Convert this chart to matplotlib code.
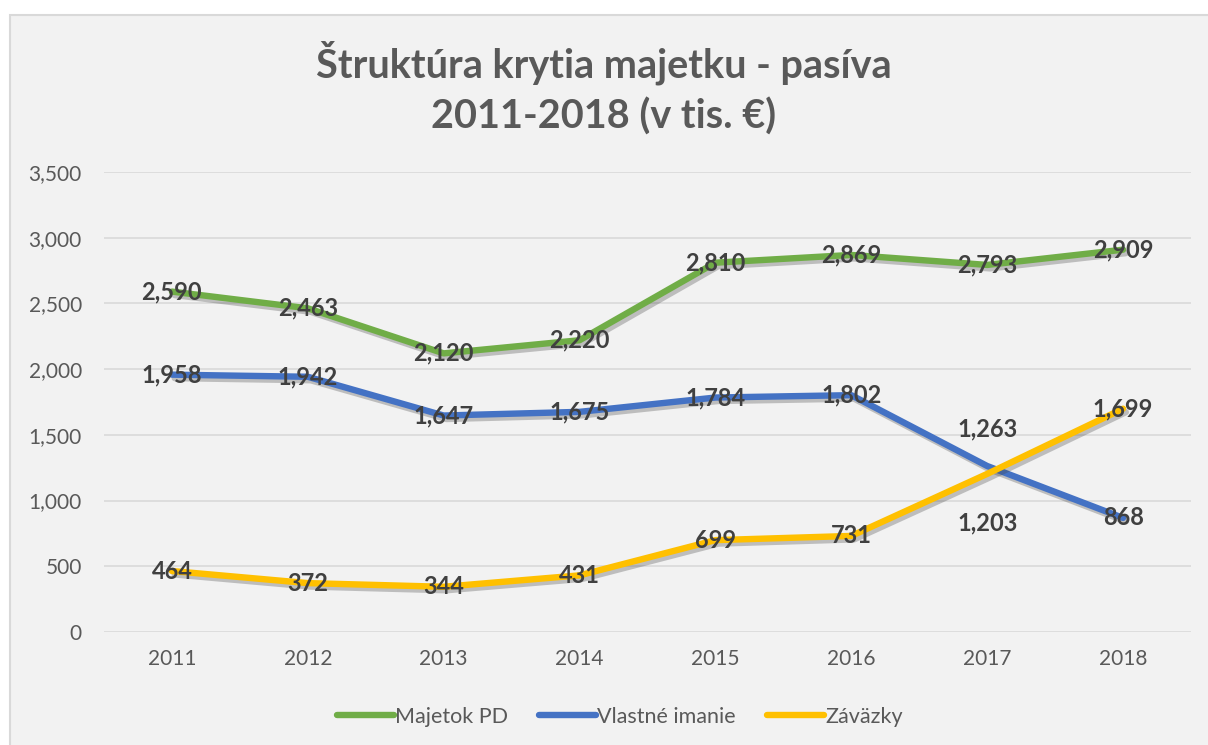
import matplotlib
matplotlib.use("Agg")
import matplotlib.pyplot as plt
import matplotlib.patheffects as pe
from matplotlib.patches import Rectangle

plt.rcParams['font.family'] = ['Lato', 'DejaVu Sans']

years = ['2011', '2012', '2013', '2014', '2015', '2016', '2017', '2018']
majetok = [2590, 2463, 2120, 2220, 2810, 2869, 2793, 2909]
imanie = [1958, 1942, 1647, 1675, 1784, 1802, 1263, 868]
zavazky = [464, 372, 344, 431, 699, 731, 1203, 1699]

names = ['Majetok PD', 'Vlastné imanie', 'Záväzky']
colors = ['#70AD47', '#4472C4', '#FFC000']
# label shift in points (only 2017 labels were moved in the original)
shifts = [{}, {6: 27}, {6: -35}]

W, H = 1208, 745
fig = plt.figure(figsize=(W / 100, H / 100), dpi=100, facecolor='white')
fig.patches.append(Rectangle((10 / W, -0.1), 1.2, 1.1 - 15 / H, transform=fig.transFigure,
                             facecolor='#F2F2F2', edgecolor='#D9D9D9', linewidth=1.5, zorder=-5))

ax = fig.add_axes([104 / W, 1 - 632 / H, (1191 - 104) / W, (632 - 172) / H])
ax.set_facecolor('none')
x = range(len(years))

shadow = [pe.SimpleLineShadow(offset=(2, -2.5), alpha=0.3, shadow_color='#444444'), pe.Normal()]
for vals, name, c, sh in zip([majetok, imanie, zavazky], names, colors, shifts):
    ax.plot(x, vals, color=c, lw=4.6, solid_capstyle='round', label=name,
            path_effects=shadow, zorder=3)
    for i, v in enumerate(vals):
        ax.annotate(f'{v:,}', (i, v), xytext=(0, sh.get(i, 0)), textcoords='offset points',
                    ha='center', va='center', fontsize=17, fontweight='bold',
                    color='#404040', zorder=5)

ax.set_xlim(-0.5, len(years) - 0.5)
ax.set_ylim(0, 3500)
ax.set_yticks(range(0, 3501, 500))
ax.set_yticklabels([f'{t:,}' for t in range(0, 3501, 500)])
ax.set_xticks(list(x))
ax.set_xticklabels(years)
ax.grid(axis='y', color='#D9D9D9', lw=1.2, zorder=0)
for s in ax.spines.values():
    s.set_visible(False)
ax.tick_params(length=0, labelsize=15, colors='#595959', pad=12)
ax.tick_params(axis='y', pad=16)

fig.text(0.5, 1 - 63 / H, 'Štruktúra krytia majetku - pasíva', ha='center', va='center',
         fontsize=28.5, fontweight='bold', color='#595959')
fig.text(0.5, 1 - 117 / H, '2011-2018 (v tis. €)', ha='center', va='center',
         fontsize=28.5, fontweight='bold', color='#595959')

leg = fig.legend(loc='center', bbox_to_anchor=(0.513, 1 - 717 / H), ncol=3, frameon=False,
                 fontsize=15.5, handlelength=2.65, handletextpad=0.05, columnspacing=1.45)
for t in leg.get_texts():
    t.set_color('#595959')
for l in leg.get_lines():
    l.set_path_effects([])

fig.savefig('out.png', dpi=100, facecolor='white')
